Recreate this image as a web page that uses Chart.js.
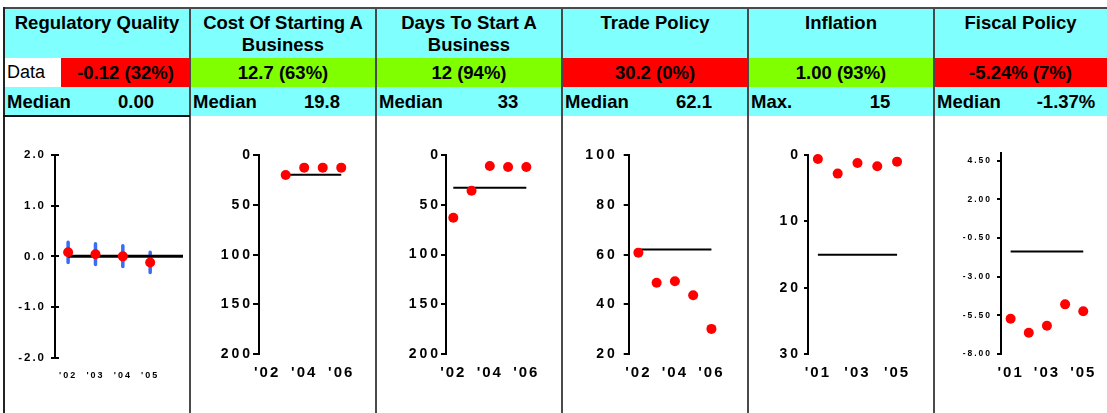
<!DOCTYPE html>
<html>
<head>
<meta charset="utf-8">
<script src="https://cdn.jsdelivr.net/npm/chart.js@4.4.0/dist/chart.umd.min.js"></script>
<style>
body { margin:0; width:1107px; height:413px; overflow:hidden; background:#fff; position:relative;
       font-family: Arial, "Liberation Sans", sans-serif; color:#000; }
.cell { position:absolute; box-sizing:border-box; }
.title { top:8px; height:50px; background:#80ffff; font-weight:bold; font-size:18.5px; line-height:21.5px; text-align:center; padding-top:4px; }
.val { top:58px; height:29px; line-height:29px; font-weight:bold; font-size:18.5px; text-align:center; }
.lab { top:58px; height:29px; line-height:29px; font-size:18px; padding-left:3px; background:#fff; }
.med { top:87px; height:29px; line-height:29px; background:#80ffff; font-weight:bold; font-size:18.5px; }
.med .name { position:absolute; left:3px; }
.med .num { position:absolute; left:80px; width:104px; text-align:center; }
.line { position:absolute; background:#4a4a4a; z-index:5; }
canvas { position:absolute; top:116px; }
</style>
</head>
<body>
<script>
// header rows
var titles = ['Regulatory Quality', 'Cost Of Starting A Business', 'Days To Start A Business', 'Trade Policy', 'Inflation', 'Fiscal Policy'];
var latestLabels = ['-0.12 (32%)', '12.7 (63%)', '12 (94%)', '30.2 (0%)', '1.00 (93%)', '-5.24% (7%)'];
var latestColors = ['#ff0000', '#80ff00', '#80ff00', '#ff0000', '#80ff00', '#ff0000'];
var refNames = ['Median', 'Median', 'Median', 'Median', 'Max.', 'Median'];
var refLabels = ['0.00', '19.8', '33', '62.1', '15', '-1.37%'];

// Regulatory Quality
var rqYears = [2002, 2003, 2004, 2005];
var rqValues = [0.08, 0.04, 0.00, -0.12];
var rqHigh = [0.28, 0.25, 0.21, 0.08];
var rqLow = [-0.12, -0.16, -0.20, -0.32];
var rqMedian = 0.00;
var rqYTicks = [-2, -1, 0, 1, 2];
var rqXTicks = [2002, 2003, 2004, 2005];

// Cost Of Starting A Business
var costYears = [2003, 2004, 2005, 2006];
var costValues = [20.0, 12.7, 12.7, 12.7];
var costMedian = 19.8;
var costYTicks = [0, 50, 100, 150, 200];
var costXTicks = [2002, 2004, 2006];

// Days To Start A Business
var daysYears = [2002, 2003, 2004, 2005, 2006];
var daysValues = [63, 36, 11, 12, 12];
var daysMedian = 33;
var daysYTicks = [0, 50, 100, 150, 200];
var daysXTicks = [2002, 2004, 2006];

// Trade Policy
var tradeYears = [2002, 2003, 2004, 2005, 2006];
var tradeValues = [60.8, 48.7, 49.3, 43.7, 30.2];
var tradeMedian = 62.1;
var tradeYTicks = [20, 40, 60, 80, 100];
var tradeXTicks = [2002, 2004, 2006];

// Inflation
var inflYears = [2001, 2002, 2003, 2004, 2005];
var inflValues = [0.6, 2.8, 1.2, 1.7, 1.0];
var inflMax = 15;
var inflYTicks = [0, 10, 20, 30];
var inflXTicks = [2001, 2003, 2005];

// Fiscal Policy
var fiscYears = [2001, 2002, 2003, 2004, 2005];
var fiscValues = [-5.72, -6.63, -6.17, -4.79, -5.24];
var fiscMedian = -1.37;
var fiscYTicks = [-8, -5.5, -3, -0.5, 2, 4.5];
var fiscXTicks = [2001, 2003, 2005];

var cols = [4, 190, 376, 562, 748, 934];
var colW = [186, 186, 186, 186, 186, 173];

function add(cls, left, width, html, bg) {
  var d = document.createElement('div');
  d.className = 'cell ' + cls;
  d.style.left = left + 'px';
  d.style.width = width + 'px';
  if (bg) d.style.background = bg;
  d.innerHTML = html;
  document.body.appendChild(d);
  return d;
}

for (var i = 0; i < 6; i++) {
  add('title', cols[i], colW[i], titles[i]);
  if (i === 0) {
    add('lab', cols[i], 57, 'Data');
    add('val', cols[i] + 57, colW[i] - 57, latestLabels[i], latestColors[i]);
  } else {
    add('val', cols[i], colW[i], latestLabels[i], latestColors[i]);
  }
  add('med', cols[i], colW[i], '<span class="name">' + refNames[i] + '</span><span class="num">' + refLabels[i] + '</span>');
}

function rule(l, t, w, h, c) {
  var d = document.createElement('div');
  d.className = 'line';
  d.style.left = l + 'px'; d.style.top = t + 'px';
  d.style.width = w + 'px'; d.style.height = h + 'px';
  if (c) d.style.background = c;
  document.body.appendChild(d);
}
rule(3, 7, 1104, 2);
rule(3, 7, 2, 406, '#222');
for (var i = 1; i < 6; i++) rule(cols[i] - 1, 7, 2, 406);
rule(3, 115, 187, 2, '#111');

// little ticks on the inside of the y axis
var innerTicks = {
  id: 'innerTicks',
  afterDraw: function(chart, args, opts) {
    if (!opts.length) return;
    var y = chart.scales.y, ctx = chart.ctx;
    ctx.save();
    ctx.strokeStyle = '#000';
    ctx.lineWidth = 2;
    y.ticks.forEach(function(t) {
      var py = Math.round(y.getPixelForValue(t.value));
      ctx.beginPath();
      ctx.moveTo(y.right, py);
      ctx.lineTo(y.right + opts.length, py);
      ctx.stroke();
    });
    ctx.restore();
  }
};

function fitter(size, key, space) {
  return function(scale) {
    scale[key] = size;
    if (scale._spaced) return;
    scale._spaced = true;
    var draw = scale.drawLabels;
    scale.drawLabels = function(area) {
      this.ctx.save();
      this.ctx.letterSpacing = space + 'px';
      draw.call(this, area);
      this.ctx.restore();
    };
  };
}

function int(v) { return String(v); }

var panels = [
  { years: rqYears, values: rqValues, high: rqHigh, low: rqLow, median: rqMedian, yTicks: rqYTicks, xTicks: rqXTicks,
    yMin: -2, yMax: 2, reverse: false, fmt: function(v) { return v.toFixed(1); },
    axis: 51, right: 179, top: 39, bottom: 241.7, xMin: 2001.52, xMax: 2006.2,
    yFont: 11.5, xFont: 9, ySpace: 2, xSpace: 2, tick: 4, yPad: 5, xPad: 12, inner: 4, lineWidth: 3, lineEnd: 2006.2, radius: 5 },
  { years: costYears, values: costValues, median: costMedian, yTicks: costYTicks, xTicks: costXTicks,
    yMin: 0, yMax: 200, reverse: true, fmt: int,
    axis: 69, right: 156.8, top: 39, bottom: 238.3, xMin: 2001.56, xMax: 2006.3,
    yFont: 14, xFont: 15, ySpace: 3, xSpace: 2, tick: 6, yPad: 0, xPad: 9.5, inner: 0, lineWidth: 2, radius: 5 },
  { years: daysYears, values: daysValues, median: daysMedian, yTicks: daysYTicks, xTicks: daysXTicks,
    yMin: 0, yMax: 200, reverse: true, fmt: int,
    axis: 70, right: 155.8, top: 39, bottom: 238, xMin: 2001.6, xMax: 2006.3,
    yFont: 14, xFont: 15, ySpace: 3, xSpace: 2, tick: 5, yPad: 0, xPad: 9.5, inner: 0, lineWidth: 2, radius: 5 },
  { years: tradeYears, values: tradeValues, median: tradeMedian, yTicks: tradeYTicks, xTicks: tradeXTicks,
    yMin: 20, yMax: 100, reverse: false, fmt: int,
    axis: 66.7, right: 154.9, top: 39, bottom: 238.3, xMin: 2001.47, xMax: 2006.3,
    yFont: 14, xFont: 15, ySpace: 3, xSpace: 2, tick: 5, yPad: 6, xPad: 9.5, inner: 0, lineWidth: 2, radius: 5 },
  { years: inflYears, values: inflValues, median: inflMax, yTicks: inflYTicks, xTicks: inflXTicks,
    yMin: 0, yMax: 30, reverse: true, fmt: int,
    axis: 60, right: 155, top: 39, bottom: 238.3, xMin: 2000.5, xMax: 2005.3,
    yFont: 14, xFont: 15, ySpace: 3, xSpace: 2, tick: 4, yPad: 3, xPad: 9.5, inner: 0, lineWidth: 2, radius: 5 },
  { years: fiscYears, values: fiscValues, median: fiscMedian, yTicks: fiscYTicks, xTicks: fiscXTicks,
    yMin: -8, yMax: 5, reverse: false, fmt: function(v) { return v.toFixed(2); },
    axis: 67, right: 154.7, top: 37, bottom: 238, xMin: 2000.47, xMax: 2005.3,
    yFont: 8.5, xFont: 15, ySpace: 2, xSpace: 2, tick: 4, yPad: 5, xPad: 9.5, inner: 1, lineWidth: 2, radius: 5 }
];

panels.forEach(function(p, i) {
  var canvas = document.createElement('canvas');
  canvas.width = colW[i];
  canvas.height = 297;
  canvas.style.left = cols[i] + 'px';
  document.body.appendChild(canvas);
  var W = canvas.width, H = canvas.height;

  var datasets = [
    { data: p.years.map(function(x, k) { return { x: x, y: p.values[k] }; }),
      pointRadius: p.radius, pointBackgroundColor: '#ff0000', pointBorderWidth: 0, showLine: false, clip: false },
    { data: [{ x: p.years[0], y: p.median }, { x: p.lineEnd || p.years[p.years.length - 1], y: p.median }],
      showLine: true, borderColor: '#000', borderWidth: p.lineWidth, pointRadius: 0, clip: false }
  ];
  if (p.high) {
    var err = [];
    p.years.forEach(function(x, k) {
      err.push({ x: x, y: p.high[k] }, { x: x, y: p.low[k] }, { x: x, y: null });
    });
    datasets.push({ data: err, showLine: true, spanGaps: false, borderColor: '#3a6cf4', borderWidth: 3.5,
      borderCapStyle: 'round', pointRadius: 0, clip: false });
  }

  new Chart(canvas, {
    type: 'scatter',
    data: { datasets: datasets },
    plugins: [innerTicks],
    options: {
      responsive: false,
      animation: false,
      events: [],
      layout: { padding: { left: 0, top: p.top, right: W - p.right, bottom: 0 } },
      scales: {
        x: {
          type: 'linear', min: p.xMin, max: p.xMax,
          afterBuildTicks: function(s) { s.ticks = p.xTicks.map(function(v) { return { value: v }; }); },
          afterFit: fitter(H - p.bottom, 'height', p.xSpace),
          grid: { display: false, drawTicks: false },
          border: { display: false },
          ticks: { autoSkip: false, maxRotation: 0, minRotation: 0, padding: p.xPad, color: '#000',
            font: { size: p.xFont, weight: 'bold', family: 'Arial, "Liberation Sans", sans-serif' },
            callback: function(v) { return "'" + String(v).slice(2); } }
        },
        y: {
          min: p.yMin, max: p.yMax, reverse: p.reverse,
          afterBuildTicks: function(s) { s.ticks = p.yTicks.map(function(v) { return { value: v }; }); },
          afterFit: fitter(p.axis, 'width', p.ySpace),
          grid: { display: true, drawOnChartArea: false, drawTicks: true, tickLength: p.tick, color: '#000', lineWidth: 2 },
          border: { display: true, color: '#000', width: 2 },
          ticks: { autoSkip: false, padding: p.yPad, color: '#000',
            font: { size: p.yFont, weight: 'bold', family: 'Arial, "Liberation Sans", sans-serif' },
            callback: function(v) { return p.fmt(v); } }
        }
      },
      plugins: { legend: { display: false }, tooltip: { enabled: false }, innerTicks: { length: p.inner } }
    }
  });
});
</script>
</body>
</html>
